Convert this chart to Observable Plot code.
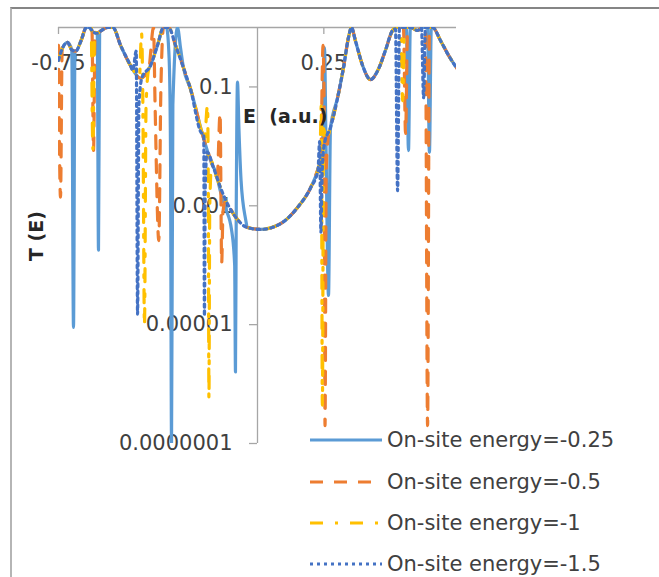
<!DOCTYPE html>
<html><head><meta charset="utf-8">
<script src="https://cdn.jsdelivr.net/npm/d3@7"></script>
<script src="https://cdn.jsdelivr.net/npm/@observablehq/plot@0.6"></script>
<style>
body{margin:0;background:#fff;}
#wrap{position:relative;width:659px;height:577px;overflow:hidden;font-family:"DejaVu Sans",sans-serif;color:#404040;}
#chart{position:absolute;left:0;top:0;}
#frame{position:absolute;left:10px;top:7px;width:800px;height:800px;border-top:2px solid #858585;border-left:2px solid #b5b5b5;pointer-events:none;}
.title{position:absolute;font-weight:bold;font-size:19px;white-space:pre;color:#262626;line-height:1;}
.row{position:absolute;left:310px;display:flex;align-items:center;height:30px;font-size:21px;white-space:pre;color:#404040;}
.row svg{margin-right:5px;}
</style></head>
<body>
<div id="wrap"></div>
<script>
// ---- data ----
const seriesNames = ["On-site energy=-0.25", "On-site energy=-0.5", "On-site energy=-1", "On-site energy=-1.5"];

const xTicks = [-0.75, 0.25];
const xTickLabels = ["-0.75", "0.25"];
const yTicks = [1e-1, 1e-3, 1e-5, 1e-7];
const yTickLabels = ["0.1", "0.001", "0.00001", "0.0000001"];

// common transmission curve shared by all four series
const baseE = [-0.750, -0.735, -0.716, -0.700, -0.685, -0.665, -0.645, -0.635, -0.620, -0.605, -0.590, -0.565, -0.545,
  -0.516, -0.479, -0.441, -0.403, -0.377, -0.354, -0.335, -0.309, -0.279, -0.253, -0.204, -0.166, -0.139, -0.120,
  -0.090, -0.038, 0.011, 0.087, 0.151, 0.200, 0.230, 0.249, 0.275, 0.302, 0.324, 0.343, 0.354, 0.369, 0.396, 0.426,
  0.456, 0.482, 0.509, 0.524, 0.545, 0.577, 0.603, 0.622, 0.660, 0.690, 0.720, 0.750];
const baseT = [0.28, 0.45, 0.56, 0.42, 0.40, 0.60, 1.0, 1.0, 0.85, 0.80, 0.88, 1.0, 1.0,
  0.50, 0.23, 0.14, 0.23, 0.50, 1.0, 1.0, 0.50, 0.21, 0.094, 0.0141, 0.0044, 0.0020, 0.00125,
  0.00072, 0.00043, 0.00040, 0.00050, 0.00094, 0.0020, 0.0044, 0.0096, 0.0208, 0.066, 0.21, 0.68, 1.0, 0.6, 0.23, 0.133,
  0.20, 0.41, 0.89, 1.0, 1.0, 1.0, 0.89, 1.0, 1.0, 0.6, 0.34, 0.21];

// resonance features of each series (groups of E and T)
const resE_025 = [[-0.700, -0.6935, -0.688], [-0.604, -0.5993, -0.595],
  [-0.343, -0.333, -0.328, -0.324, -0.319, -0.3015, -0.290],
  [-0.160, -0.139, -0.120, -0.098, -0.086, -0.083, -0.080, -0.0754, -0.070, -0.062, -0.045],
  [0.245, 0.2525, 0.258, 0.2676, 0.275], [0.561, 0.569, 0.576], [0.641, 0.648, 0.655]];
const resT_025 = [[0.42, 9e-6, 0.40], [0.80, 1.8e-4, 0.85],
  [1.0, 0.3, 0.01, 1e-7, 0.05, 1.0, 0.45],
  [0.0040, 0.0017, 0.0009, 0.00040, 0.0001, 1.6e-6, 0.001, 0.12, 0.02, 0.0027, 0.0006],
  [0.0085, 0.46, 0.012, 3.1e-5, 0.02], [1.0, 0.0085, 1.0], [1.0, 0.0079, 1.0]];

const resE_05 = [[-0.750, -0.7425, -0.736], [-0.624, -0.618, -0.612],
  [-0.410, -0.392, -0.386, -0.372, -0.364, -0.354],
  [-0.152, -0.141, -0.135, -0.130, -0.120],
  [0.238, 0.247, 0.251, 0.2545, 0.259, 0.268], [0.550, 0.558, 0.566], [0.633, 0.641, 0.648]];
const resT_05 = [[0.5, 0.0014, 0.48], [1.0, 0.0085, 0.85],
  [0.20, 1.0, 0.05, 2.6e-4, 0.1, 1.0],
  [0.0030, 0.036, 1.1e-4, 8e-4, 0.0012],
  [0.0055, 0.5, 0.05, 2e-7, 0.004, 0.016], [1.0, 0.0165, 1.0], [1.0, 2e-7, 1.0]];

const resE_1 = [[-0.627, -0.6205, -0.614], [-0.445, -0.437, -0.432, -0.426, -0.420, -0.410],
  [-0.200, -0.1885, -0.1855, -0.183, -0.180, -0.172],
  [0.235, 0.2405, 0.2445, 0.249, 0.258], [0.540, 0.547, 0.554]];
const resT_1 = [[1.0, 0.009, 0.85], [0.15, 0.8, 0.05, 9.7e-6, 0.05, 0.2],
  [0.0125, 0.049, 0.002, 5.7e-7, 0.001, 0.0055],
  [0.0055, 0.05, 4.4e-7, 0.02, 0.013], [1.0, 0.059, 1.0]];

const resE_15 = [[-0.470, -0.457, -0.452, -0.447, -0.436], [-0.212, -0.2025, -0.200, -0.197, -0.190],
  [0.228, 0.234, 0.239, 0.244, 0.252], [0.520, 0.528, 0.535], [0.618, 0.626, 0.633]];
const resT_15 = [[0.19, 0.4, 1.5e-5, 0.05, 0.14], [0.017, 0.016, 1.4e-5, 0.002, 0.008],
  [0.0040, 0.012, 3.6e-4, 0.004, 0.011], [0.95, 0.0018, 1.0], [1.0, 0.066, 1.0]];

// ---- styling ----
const colors = ["#5B9BD5", "#ED7D31", "#FFC000", "#4472C4"];
const dashes = [null, "13,11", "13,12,3,12", "3,4"];

function build(gE, gT) {
  let pts = baseE.map((E, i) => ({E, T: baseT[i]}));
  gE.forEach((g, k) => {
    const lo = Math.min(...g), hi = Math.max(...g);
    pts = pts.filter(p => p.E < lo || p.E > hi);
    g.forEach((E, j) => pts.push({E, T: gT[k][j]}));
  });
  return pts.sort((a, b) => a.E - b.E);
}
const seriesData = [build(resE_025, resT_025), build(resE_05, resT_05), build(resE_1, resT_1), build(resE_15, resT_15)];

const axisGray = "#a6a6a6";
const chart = Plot.plot({
  width: 659, height: 577,
  marginLeft: 58, marginRight: 203, marginTop: 27, marginBottom: 134,
  style: {fontFamily: "DejaVu Sans", background: "transparent"},
  x: {type: "linear", domain: [-0.75, 0.75], axis: null},
  y: {type: "log", domain: [1e-7, 1], axis: null},
  marks: [
    Plot.ruleX([0], {stroke: axisGray, strokeWidth: 1.3}),
    Plot.ruleY([1], {stroke: axisGray, strokeWidth: 1.3}),
    Plot.ruleY(yTicks, {y: d => d, x1: 0, x2: 0, insetLeft: -8, stroke: axisGray, strokeWidth: 1.3}),
    Plot.ruleX(xTicks, {x: d => d, y1: 1, y2: 1, insetBottom: -7, stroke: axisGray, strokeWidth: 1.3}),
    Plot.text(yTicks, {x: 0, y: d => d, text: (d, i) => yTickLabels[i], textAnchor: "end", dx: -25, fontSize: 21, fill: "#404040"}),
    Plot.text(xTicks, {x: d => d, y: 1, text: (d, i) => xTickLabels[i], dy: 36, fontSize: 21, fill: "#404040"}),
    ...seriesData.map((data, i) => Plot.line(data, {
      x: "E", y: "T", stroke: colors[i], strokeWidth: 3.2,
      strokeDasharray: dashes[i] || undefined, curve: "monotone-x", clip: true
    }))
  ]
});
chart.id = "chart";
const wrap = document.getElementById("wrap");
wrap.appendChild(chart);

// axis titles
const tx = document.createElement("div");
tx.className = "title"; tx.textContent = "E  (a.u.)";
tx.style.left = "243px"; tx.style.top = "107px";
wrap.appendChild(tx);
const ty = document.createElement("div");
ty.className = "title"; ty.textContent = "T (E)";
ty.style.left = "36px"; ty.style.top = "236px";
ty.style.transform = "translate(-50%,-50%) rotate(-90deg)";
wrap.appendChild(ty);

// legend
const rowCenters = [440, 482, 523, 564];
seriesNames.forEach((name, i) => {
  const row = document.createElement("div");
  row.className = "row";
  row.style.top = (rowCenters[i] - 15) + "px";
  const svg = d3.create("svg").attr("width", 72).attr("height", 10);
  svg.append("line").attr("x1", 0).attr("x2", 72).attr("y1", 5).attr("y2", 5)
    .attr("stroke", colors[i]).attr("stroke-width", 3)
    .attr("stroke-dasharray", dashes[i]);
  row.appendChild(svg.node());
  const span = document.createElement("span");
  span.textContent = name;
  row.appendChild(span);
  wrap.appendChild(row);
});

const frame = document.createElement("div");
frame.id = "frame";
wrap.appendChild(frame);
</script>
</body></html>
